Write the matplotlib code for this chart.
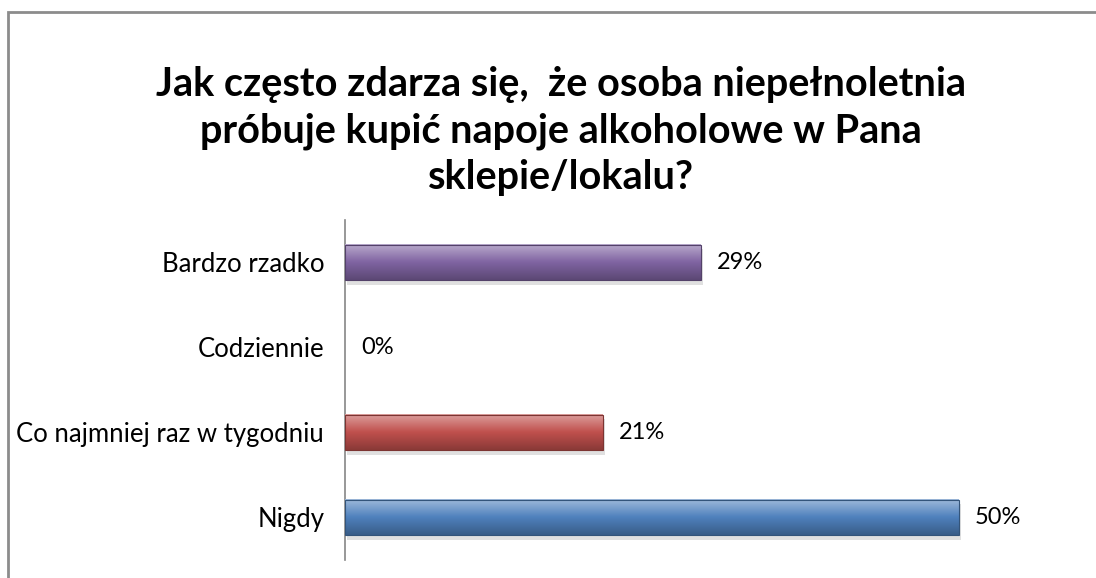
import matplotlib.pyplot as plt
import matplotlib.colors as mcolors
from matplotlib.patches import Rectangle
import numpy as np

categories = ["Nigdy", "Co najmniej raz w tygodniu", "Codziennie", "Bardzo rzadko"]
values = [50, 21, 0, 29]
bar_colors = ["#4F81BD", "#C0504D", "#9BBB59", "#8064A2"]
title = "Jak często zdarza się,  że osoba niepełnoletnia\npróbuje kupić napoje alkoholowe w Pana\nsklepie/lokalu?"

plt.rcParams["font.family"] = ["Lato", "DejaVu Sans"]

W, H = 1096, 578
fig = plt.figure(figsize=(W / 100, H / 100), dpi=100)

# outer chart border (right/bottom edges fall outside the crop)
fig.patches.append(Rectangle((8 / W, -0.1), 1.2, 1 - 12 / H + 0.1, transform=fig.transFigure,
                             fill=False, edgecolor="#8C8C8C", linewidth=2))

fig.text(0.512, 1 - 66 / H, title, ha="center", va="top", fontsize=28.5,
         fontweight="bold", linespacing=1.3)

ax = fig.add_axes([345 / W, 1 - 560 / H, (1084 - 345) / W, 340 / H])
ypos = np.arange(len(categories))
bars = ax.barh(ypos, values, height=0.42, color=bar_colors, zorder=2)

# vertical gradient on each bar (light top, dark bottom)
grad = np.linspace(0, 1, 64).reshape(-1, 1)
for bar, col, v in zip(bars, bar_colors, values):
    x0, y0 = bar.get_x(), bar.get_y()
    w, h = bar.get_width(), bar.get_height()
    ax.text(x0 + w + 1.3, y0 + h / 2, f"{v}%", va="center", ha="left", fontsize=17)
    if w <= 0:
        continue
    base = np.array(mcolors.to_rgb(col))
    light = base + (1 - base) * 0.45
    dark = base * 0.72
    g = grad[..., None]
    cols = np.where(g < 0.5, light + (base - light) * (g / 0.5),
                    base + (dark - base) * ((g - 0.5) / 0.5))
    # shadow
    ax.add_patch(Rectangle((x0 + 0.15, y0 - 0.05), w, h, color="#000000", alpha=0.12,
                           zorder=1, linewidth=0))
    ax.imshow(cols, extent=(x0, x0 + w, y0, y0 + h), origin="upper",
              aspect="auto", zorder=3, interpolation="bicubic")
    ax.add_patch(Rectangle((x0, y0), w, h, fill=False, edgecolor=dark * 0.9,
                           linewidth=0.8, zorder=4))

ax.set_xlim(0, 60.2)
ax.set_ylim(-0.5, len(categories) - 0.5)
ax.set_yticks(ypos, categories, fontsize=18.5)
ax.tick_params(axis="y", length=0, pad=15)
ax.set_xticks([])
for s in ["top", "right", "bottom"]:
    ax.spines[s].set_visible(False)
ax.spines["left"].set_color("#868686")
ax.spines["left"].set_linewidth(1.2)

fig.savefig("out.png", dpi=100)
